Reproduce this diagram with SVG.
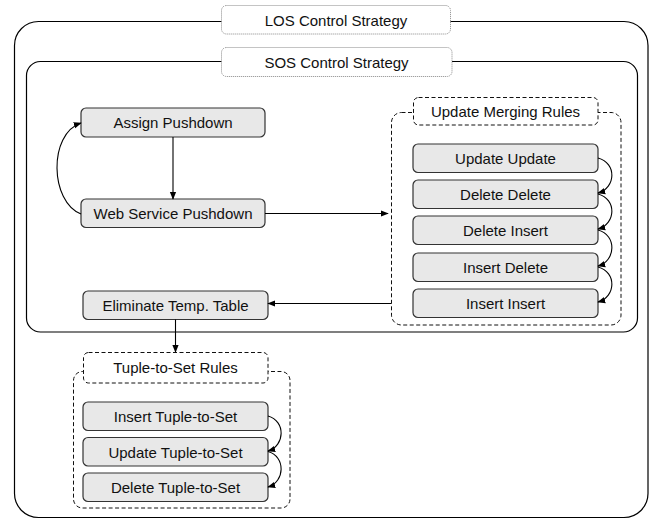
<svg xmlns="http://www.w3.org/2000/svg" width="658" height="519" viewBox="0 0 658 519">
  <defs>
    <marker id="arrow" viewBox="0 0 10 10" refX="9" refY="5" markerWidth="8" markerHeight="8" markerUnits="userSpaceOnUse" orient="auto">
      <path d="M0,1 L10,5 L0,9 z" fill="#000"/>
    </marker>
    <style>
      .frame { fill: none; stroke: #000; stroke-width: 1.2; }
      .tag { fill: #fff; stroke: #888; stroke-width: 1; stroke-dasharray: 1 1; }
      .group { fill: none; stroke: #111; stroke-width: 1; stroke-dasharray: 4 2.5; }
      .grouptag { fill: #fff; stroke: #111; stroke-width: 1; stroke-dasharray: 4 2.5; }
      .node { fill: #e8e8e8; stroke: #333; stroke-width: 1.2; }
      text { font-family: "Liberation Sans", Arial, sans-serif; font-size: 15px; fill: #111; text-anchor: middle; }
      .edge { fill: none; stroke: #000; stroke-width: 1.1; marker-end: url(#arrow); }
    </style>
  </defs>

  <!-- outer LOS strategy frame -->
  <g id="los">
    <rect class="frame" x="14.5" y="21.5" width="633.5" height="496" rx="24"/>
    <rect class="tag" x="221.5" y="5.5" width="229" height="28.5" rx="5"/>
    <text x="336" y="26">LOS Control Strategy</text>
  </g>

  <!-- inner SOS strategy frame -->
  <g id="sos">
    <rect class="frame" x="26.5" y="61.5" width="611" height="270.5" rx="14"/>
    <rect class="tag" x="221.5" y="47.5" width="230.5" height="29" rx="5"/>
    <text x="336.5" y="68">SOS Control Strategy</text>
  </g>

  <g id="assign-pushdown">
    <rect class="node" x="81" y="108" width="184" height="29" rx="5"/>
    <text x="173" y="128">Assign Pushdown</text>
  </g>

  <g id="web-service-pushdown">
    <rect class="node" x="81" y="199" width="184" height="28.5" rx="5"/>
    <text x="173" y="219">Web Service Pushdown</text>
  </g>

  <g id="eliminate-temp-table">
    <rect class="node" x="83" y="291" width="185" height="28.5" rx="5"/>
    <text x="175.5" y="311">Eliminate Temp. Table</text>
  </g>

  <!-- update merging rules group -->
  <g id="update-merging-rules">
    <rect class="group" x="391.5" y="112.5" width="229.5" height="212.5" rx="10"/>
    <rect class="grouptag" x="413.5" y="97.5" width="184.5" height="27.5" rx="5"/>
    <text x="505.5" y="117">Update Merging Rules</text>
  </g>
  <g id="update-update">
    <rect class="node" x="413" y="144" width="185" height="28.5" rx="5"/>
    <text x="505.5" y="164">Update Update</text>
  </g>
  <g id="delete-delete">
    <rect class="node" x="413" y="180" width="185" height="28.5" rx="5"/>
    <text x="505.5" y="200">Delete Delete</text>
  </g>
  <g id="delete-insert">
    <rect class="node" x="413" y="216" width="185" height="28.5" rx="5"/>
    <text x="505.5" y="236">Delete Insert</text>
  </g>
  <g id="insert-delete">
    <rect class="node" x="413" y="253" width="185" height="28.5" rx="5"/>
    <text x="505.5" y="273">Insert Delete</text>
  </g>
  <g id="insert-insert">
    <rect class="node" x="413" y="289" width="185" height="28.5" rx="5"/>
    <text x="505.5" y="309">Insert Insert</text>
  </g>

  <!-- tuple-to-set rules group -->
  <g id="tuple-to-set-rules">
    <rect class="group" x="73.5" y="371.5" width="216.5" height="136.5" rx="9"/>
    <rect class="grouptag" x="83.5" y="352.5" width="184.5" height="30.5" rx="5"/>
    <text x="175.5" y="373">Tuple-to-Set Rules</text>
  </g>
  <g id="insert-tuple-to-set">
    <rect class="node" x="83" y="402" width="185" height="28.5" rx="5"/>
    <text x="175.5" y="422">Insert Tuple-to-Set</text>
  </g>
  <g id="update-tuple-to-set">
    <rect class="node" x="83" y="437.5" width="185" height="28.5" rx="5"/>
    <text x="175.5" y="457.5">Update Tuple-to-Set</text>
  </g>
  <g id="delete-tuple-to-set">
    <rect class="node" x="83" y="473" width="185" height="28.5" rx="5"/>
    <text x="175.5" y="493">Delete Tuple-to-Set</text>
  </g>

  <!-- connectors -->
  <g id="connectors">
    <path class="edge" d="M173,137 L173,199"/>
    <path class="edge" d="M81,214 C50,202 48,134 81,123"/>
    <path class="edge" d="M265,213.5 L388,213.5"/>
    <path class="edge" d="M391,303.5 L268,303.5"/>
    <path class="edge" d="M175.5,319.5 L175.5,352"/>
    <path class="edge" d="M598,158 C617,163 616,188 598,193"/>
    <path class="edge" d="M598,194 C617,199 616,224 598,229"/>
    <path class="edge" d="M598,230 C617,235 616,261 598,266"/>
    <path class="edge" d="M598,267 C617,272 616,297 598,302"/>
    <path class="edge" d="M268,416 C286,421 285,446 268,451"/>
    <path class="edge" d="M268,451.5 C286,456.5 285,482 268,487"/>
  </g>
</svg>
